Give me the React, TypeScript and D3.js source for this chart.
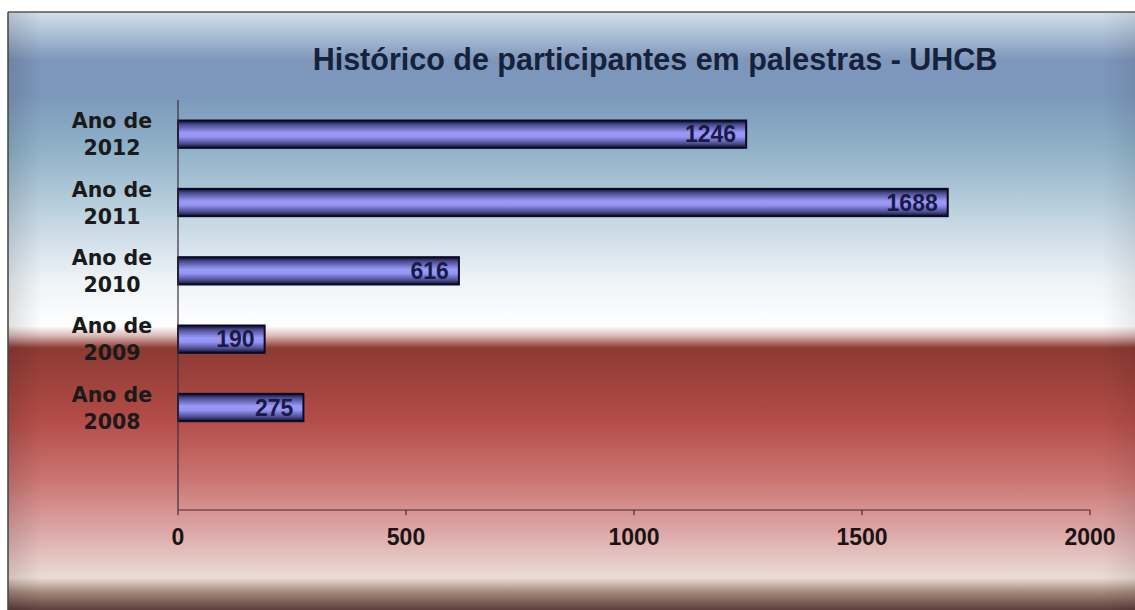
import React from "react";
import * as d3 from "d3";

const title = "Histórico de participantes em palestras - UHCB";
const categories = ["Ano de 2012", "Ano de 2011", "Ano de 2010", "Ano de 2009", "Ano de 2008", ""];
const values: (number | null)[] = [1246, 1688, 616, 190, 275, null];
const xTicks = [0, 500, 1000, 1500, 2000];

const W = 1135;
const H = 610;

export default function App() {
  const x = d3.scaleLinear().domain([0, 2000]).range([178, 1090]);
  const y = d3.scaleBand<string>().domain(categories.map((c, i) => c || "blank" + i)).range([100, 510]).paddingInner(0.6).paddingOuter(0.3);
  const bgStops: [number, string][] = [
    [12, "#d3dfec"], [30, "#b3c6da"], [60, "#7e96bb"], [95, "#7b98bc"], [150, "#90b2c8"],
    [220, "#c3d6e2"], [280, "#eef3f7"], [326, "#ffffff"], [336, "#d8b8b4"], [348, "#8c3a32"],
    [420, "#b44c48"], [480, "#cb7572"], [530, "#dca6a6"], [578, "#ecdcd6"], [592, "#a48a7c"], [610, "#5c3c3a"],
  ];
  const y0 = 12, y1 = 610;
  const wide = "DejaVu Sans, Verdana, sans-serif";
  const arial = "Liberation Sans, Arial, sans-serif";
  return (
    <svg width={W} height={H} style={{ position: "absolute", left: 0, top: 0 }}>
      <defs>
        <linearGradient id="bg" x1="0" y1="0" x2="0" y2="1">
          {bgStops.map(([p, c], i) => (
            <stop key={i} offset={(p - y0) / (y1 - y0)} stopColor={c} />
          ))}
        </linearGradient>
        <linearGradient id="vig" x1="0" y1="0" x2="1" y2="0">
          <stop offset="0" stopColor="#000" stopOpacity="0.12" />
          <stop offset="0.03" stopColor="#000" stopOpacity="0" />
          <stop offset="0.97" stopColor="#000" stopOpacity="0" />
          <stop offset="1" stopColor="#000" stopOpacity="0.08" />
        </linearGradient>
        <linearGradient id="bar" x1="0" y1="0" x2="0" y2="1">
          <stop offset="0" stopColor="#0c0c30" />
          <stop offset="0.15" stopColor="#4a4a90" />
          <stop offset="0.45" stopColor="#9a9af8" />
          <stop offset="0.6" stopColor="#9494f4" />
          <stop offset="0.85" stopColor="#4a4a8c" />
          <stop offset="1" stopColor="#0c0c30" />
        </linearGradient>
      </defs>
      <rect x={0} y={0} width={W} height={H} fill="#ffffff" />
      <rect x={8} y={y0} width={W - 8} height={y1 - y0} fill="url(#bg)" />
      <rect x={8} y={y0} width={W - 8} height={y1 - y0} fill="url(#vig)" />
      <line x1={8} y1={y0} x2={W} y2={y0} stroke="#555" strokeWidth={1.5} />
      <line x1={8} y1={y0} x2={8} y2={y1} stroke="#444" strokeWidth={1.5} />
      <text x={655} y={70} textAnchor="middle" fontFamily={arial} fontWeight="bold" fontSize={30.5} fill="#15223a">
        {title}
      </text>
      {/* bars */}
      {categories.map((c, i) => {
        const v = values[i];
        if (v == null) return null;
        const key = c || "blank" + i;
        const by = y(key)!;
        const bh = y.bandwidth();
        return (
          <g key={i}>
            <rect x={x(0)} y={by} width={x(v) - x(0)} height={bh} fill="url(#bar)" stroke="#0a0a20" strokeWidth={2} />
            <text x={x(v) - 10} y={by + bh / 2 + 8} textAnchor="end" fontFamily={arial} fontWeight="bold" fontSize={23} fill="#1a1a48">
              {v}
            </text>
          </g>
        );
      })}
      {/* category labels */}
      {categories.map((c, i) => {
        if (!c) return null;
        const key = c || "blank" + i;
        const cy = y(key)! + y.bandwidth() / 2;
        const parts = c.split(" ");
        const l1 = parts.slice(0, 2).join(" ");
        const l2 = parts.slice(2).join(" ");
        return (
          <text key={i} textAnchor="middle" fontFamily={wide} fontWeight="bold" fontSize={20.5} fill="#1a1a1a">
            <tspan x={112} y={cy - 6}>{l1}</tspan>
            <tspan x={112} y={cy + 21}>{l2}</tspan>
          </text>
        );
      })}
      {/* axes */}
      <line x1={178} y1={100} x2={178} y2={510} stroke="#3a3040" strokeWidth={1.2} />
      <line x1={178} y1={510} x2={1090} y2={510} stroke="#4a2a2a" strokeWidth={1.2} />
      {xTicks.map((t) => (
        <g key={t}>
          <line x1={x(t)} y1={510} x2={x(t)} y2={515} stroke="#4a2a2a" strokeWidth={1.2} />
          <text x={x(t)} y={545} textAnchor="middle" fontFamily={arial} fontWeight="bold" fontSize={23} fill="#1a1414">
            {t}
          </text>
        </g>
      ))}
    </svg>
  );
}
